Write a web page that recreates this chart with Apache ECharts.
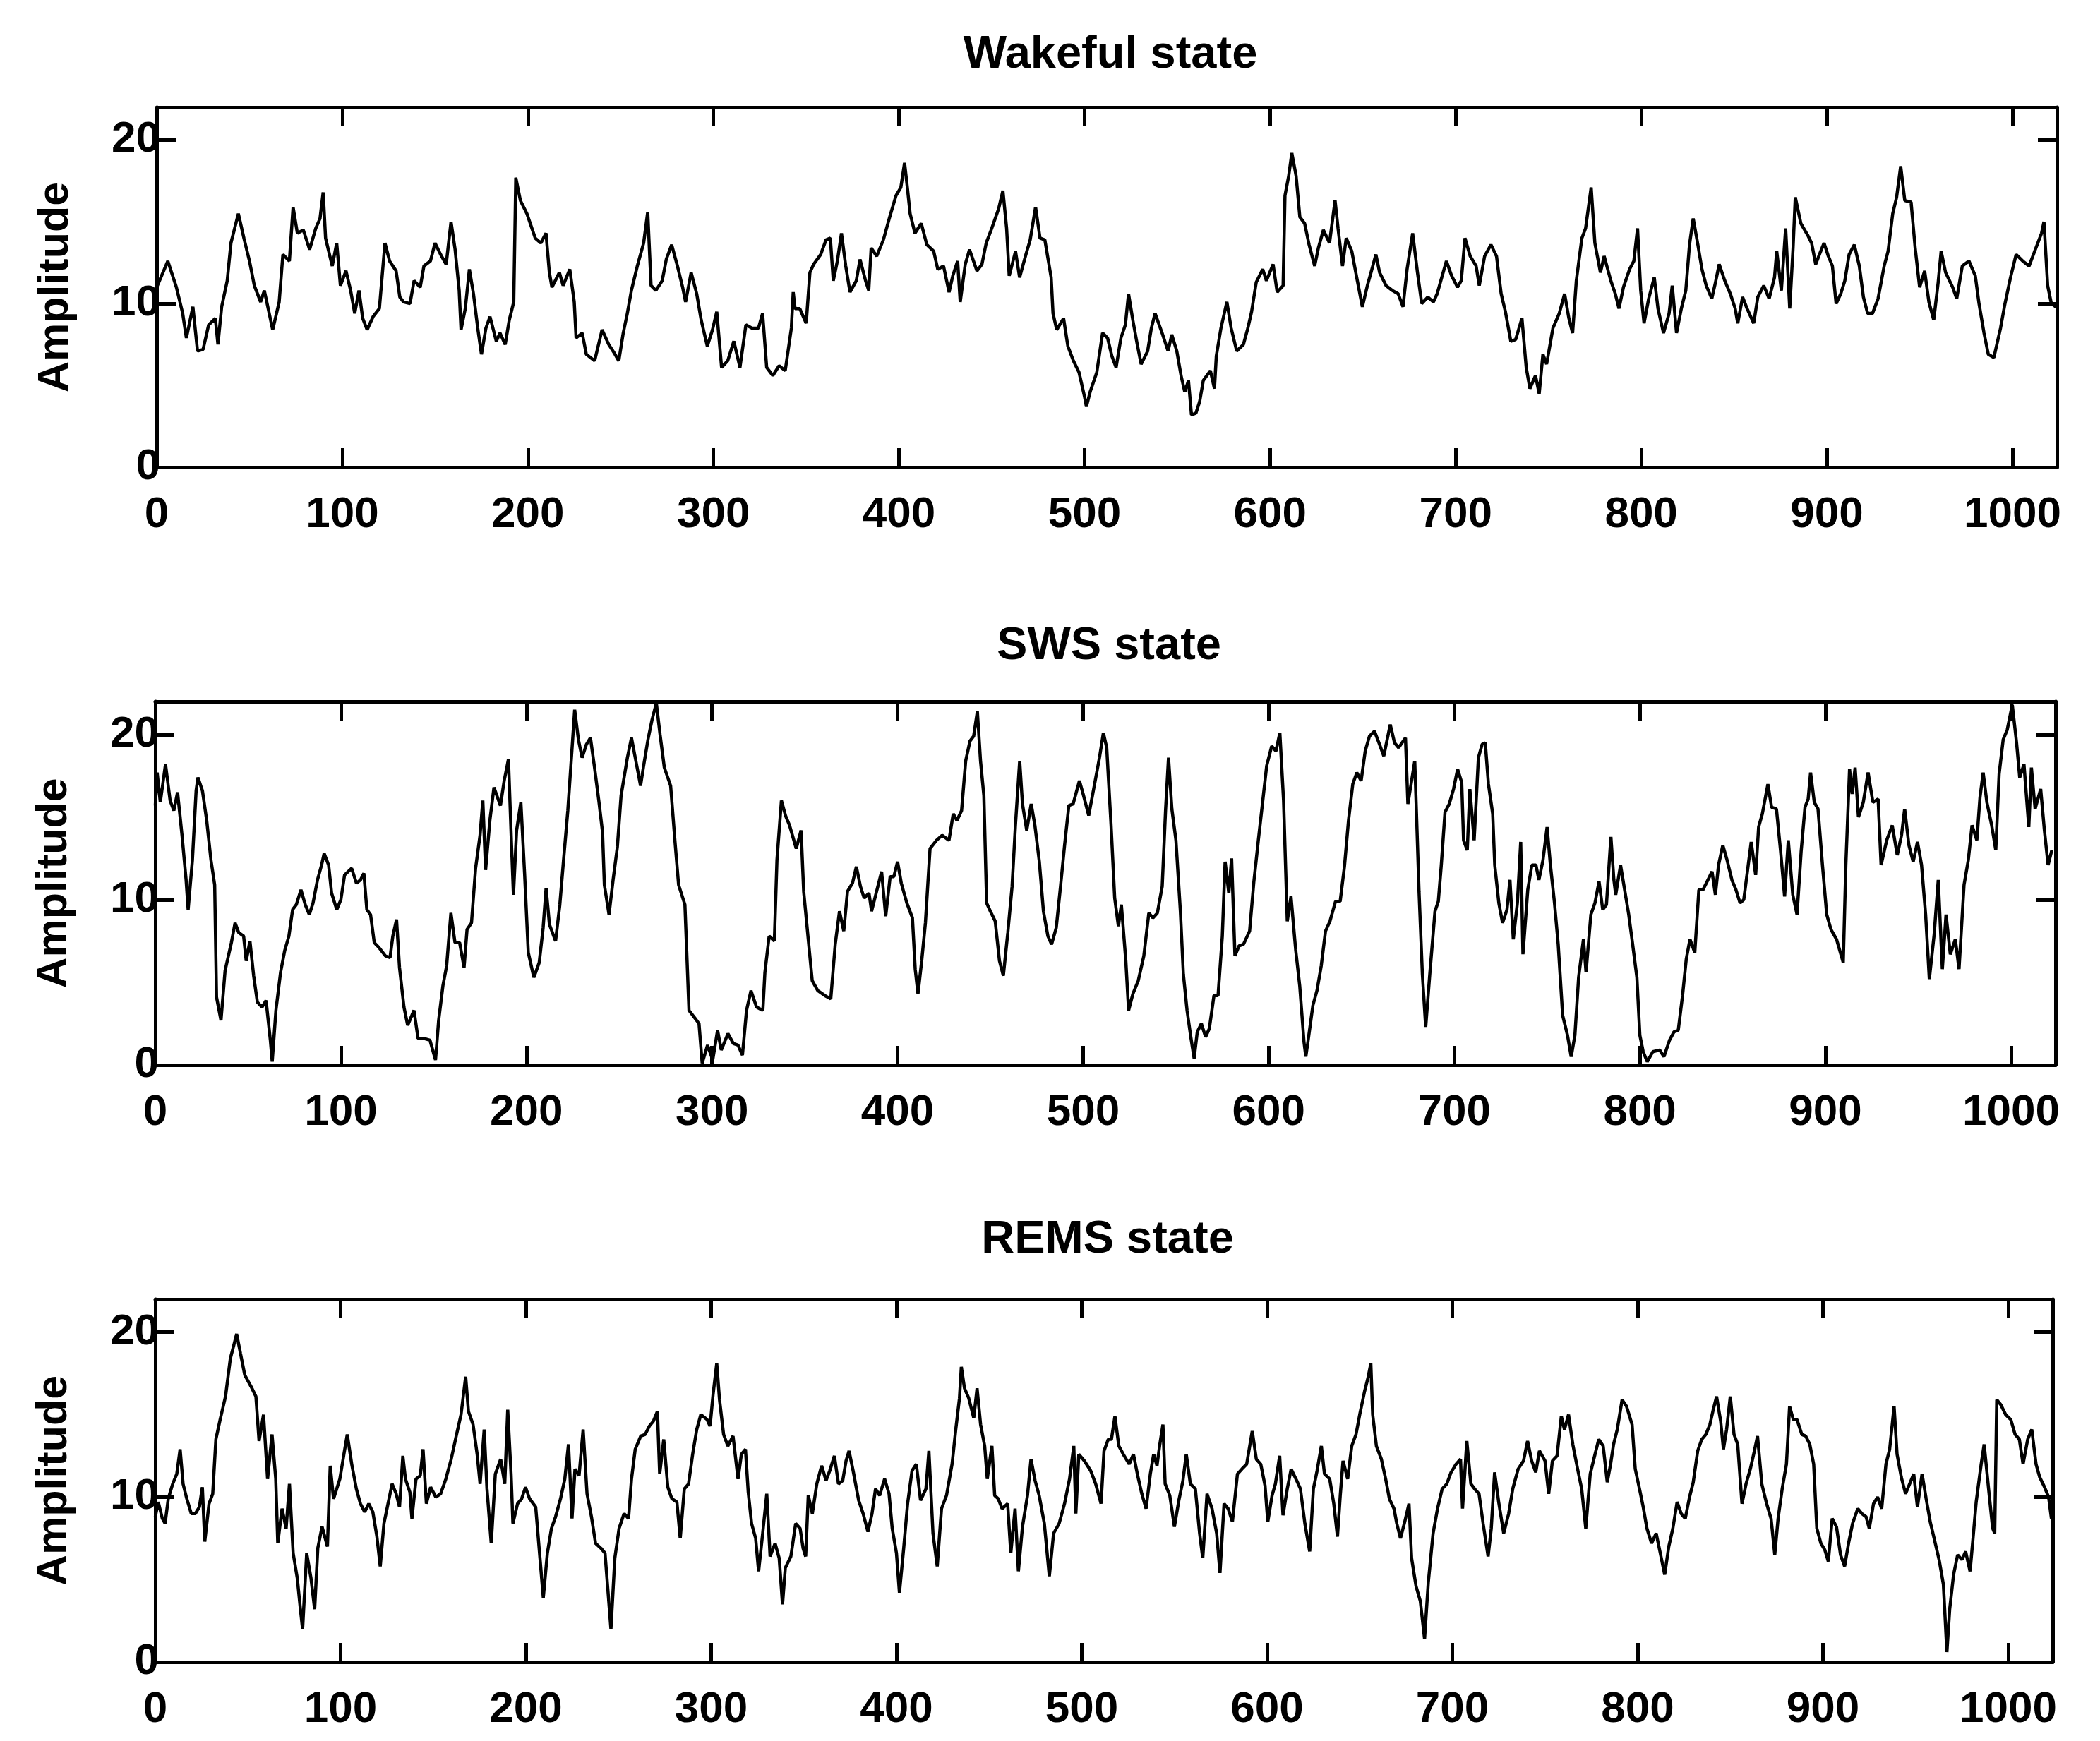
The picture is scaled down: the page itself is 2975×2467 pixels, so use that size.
<!DOCTYPE html>
<html>
<head>
<meta charset="utf-8">
<title>Amplitude by state</title>
<script src="https://cdn.jsdelivr.net/npm/echarts@6/dist/echarts.min.js"></script>
<style>
  html, body { margin: 0; padding: 0; background: #fff; }
  #chart { width: 2975px; height: 2467px; }
</style>
</head>
<body>
<div id="chart"></div>
<script>
"use strict";

var titles = ["Wakeful state", "SWS state", "REMS state"];
var xTicks = [0, 100, 200, 300, 400, 500, 600, 700, 800, 900, 1000];
var yTicks = [0, 10, 20];

// Wakeful state
var wakeX = [0,6,10.6,14,16,19.5,22,25,28,31.6,33,35,38,40,44,47,50,52.6,56,58,62.5,66,68,71.5,73.5,75.8,79,82.4,85.7,88,89.7,91,94.6,97,99,102,104.5,106.7,109,111,113.4,116.6,120,123,125.5,129,131,133,136.5,138.7,142,144,147.5,150,153,156,158.6,160.8,163,164,166.3,168.5,170.7,173,175,177.4,179.6,183,185,187.8,190,192.4,193.5,196,199.5,204,207,209.8,211.6,213,217,219,222.6,225,226,229.3,231.5,236,240,243.6,247,249,251.4,253.6,255.8,259,262.4,264.6,266.4,269,272.4,274.6,277.5,280.6,283.4,285,288,291,293.4,296.7,299.5,301.8,304.4,307.7,311,314.3,317.5,320.8,324.3,326.5,328.7,332,335.4,338.7,342,
  343,344,346.5,350,352,354,357.8,360.7,363,364.6,366.8,369,371.3,373.6,377,379,382,383.7,385,388,391.6,395,398.4,401,403,404.5,406,408.6,412,415,418.7,420.9,424,427,429,431.6,433,435.7,438,442,444.7,447,450,453.7,456,458,459.4,462.8,465,468.4,470.7,473.6,476,478.6,482,483,485,488.7,491,494,497,500,501,503,506.6,509.7,512.4,514.7,517,519.6,522,523.7,526,528.4,530.5,534,536,538,541.8,545,547,549.7,552,554,556,557.6,560,562,564,567.8,570,571,573.5,576.7,579,582,585.6,588,590,592.5,596,598,601.6,603.8,607,608,610,611.7,614,616,618.6,621,624,626,628.7,632,635,636.6,639,641,644,647,649.7,652.4,654.6,657,659,662.5,665.9,669,671.6,673.8,676.8,679.4,681.7,685,688,
  690,692,695,697.8,701,703,705,707.8,711,712.7,715.6,719,722,724.5,726.8,729.7,732.3,735.7,738,740,743,745,747,749,752.4,755.8,758.7,761,763,765,768,770,773,775,778,780,783.6,786,788,790.4,793.7,796,798,799.7,801.5,804,807,809,812,815,816.7,819,821.6,824,826,828,830.5,832.7,835,838,840,842,845,848,850.6,852,854.6,857,860.6,862.8,866,868.9,871.8,873,875.5,877.8,880,881.8,883,886,889.6,891.8,894,896,898.5,900.8,903,905,907.5,909.7,912,914.8,917.5,919.7,922,924.6,927.6,930.9,933,935.5,937.6,939.8,942,945.4,947.6,950,952.7,955,957.6,960,961.6,964,967.8,970,973,976.6,980,982,984.7,987,990,993.6,996,999,1002,1005.6,1009,1012,1015.7,1017,1019,1021,1023.5];
var wakeY = [11,12.6,11,9.4,7.9,9.8,7.1,7.2,8.7,9.1,7.5,9.8,11.4,13.7,15.5,14,12.6,11.1,10.1,10.8,8.4,10.1,13,12.6,15.9,14.3,14.5,13.3,14.6,15.2,16.8,14,12.3,13.7,11.1,12,10.8,9.4,10.8,9.1,8.4,9.2,9.7,13.7,12.6,12,10.4,10.1,10,11.4,11,12.3,12.6,13.7,13,12.4,15,13.3,10.8,8.4,9.7,12.1,10.6,8.5,6.9,8.5,9.2,7.7,8.2,7.5,9,10.1,17.7,16.3,15.5,14,13.7,14.3,11.9,11,11.9,11.1,12.1,10.1,7.9,8.2,6.9,6.5,8.4,7.5,6.9,6.5,8.2,9.4,10.8,12.3,13.7,15.6,11.1,10.8,11.4,12.7,13.6,12.3,11,10.1,11.9,10.6,9,7.4,8.4,9.5,6.1,6.5,7.7,6.1,8.7,8.5,8.5,9.4,6.1,5.6,6.2,5.9,8.5,
  10.7,9.7,9.7,8.8,11.9,12.4,13,13.9,14,11.4,12.6,14.3,12.3,10.7,11.4,12.7,11.4,10.8,13.4,12.9,13.9,15.3,16.6,17.1,18.6,17.1,15.5,14.3,14.9,13.6,13.2,12.1,12.3,10.7,11.7,12.6,10.1,12.4,13.3,12,12.4,13.7,14.6,15.8,16.9,14.6,11.7,13.2,11.6,13,13.9,15.9,14,13.9,11.6,9.4,8.4,9.1,7.4,6.5,5.8,4.3,3.7,4.6,5.8,8.2,7.9,6.8,6.1,7.9,8.7,10.6,9,7.5,6.3,7.1,8.5,9.4,8.2,7.1,8.1,7.1,5.6,4.6,5.3,3.2,3.3,4,5.3,5.9,4.8,6.8,8.5,10.1,8.5,7.1,7.5,8.5,9.5,11.3,12.1,11.4,12.4,10.7,11.1,16.6,17.8,19.2,17.8,15.3,14.9,13.6,12.3,13.4,14.5,13.7,16.3,14.6,12.3,14,13.2,11.4,9.8,11.1,12,13,11.9,11.1,10.8,10.6,9.8,12.1,14.3,11.9,10,10.4,10.1,
  10.6,11.4,12.6,11.7,11,11.4,14,12.9,12.3,11.1,12.9,13.6,12.9,10.6,9.5,7.7,7.8,9.1,6.1,4.8,5.6,4.5,6.9,6.3,8.5,9.4,10.6,9.1,8.2,11.4,14,14.6,17.1,13.7,11.9,12.9,11.4,10.6,9.7,11,12.1,12.6,14.6,10.8,8.8,10.3,11.6,9.7,8.2,9.4,11.1,8.2,9.7,10.8,13.6,15.2,13.6,12.1,11.1,10.3,11.3,12.4,11.4,10.6,9.7,8.8,10.4,9.7,8.8,10.4,11.1,10.3,11.6,13.2,10.8,14.6,9.7,13.4,16.5,14.9,14.2,13.7,12.4,13,13.7,12.9,12.3,10,10.6,11.4,13,13.6,12.3,10.4,9.4,9.4,10.3,12.3,13.2,15.5,16.5,18.4,16.3,16.2,13.4,11,12,10.1,9,11.3,13.2,11.9,11,10.3,12.3,12.6,11.7,10,8.2,6.9,6.7,8.5,10,11.6,13,12.6,12.3,13.2,14.3,15,11.1,10,9.8];

// SWS state
var swsX = [0,1,2.7,5.5,8,10,12,14.4,16.6,17.7,20,22,23,25.4,27.7,30,32,33,35.4,37.6,41,43,45,47.6,49,51,53,55,57.5,59.7,62,63,65,67.5,69.7,72,74,76,78.5,80.8,83,85,87.4,89.6,91,93.4,95,97.8,100,102,105.8,108.4,110.6,112.4,114,116,118,120.6,124,126.5,128,130,131.6,134,136,139.4,141.6,145,148,151,152.7,155,157,159.3,161.5,164,166.4,168,170.4,172.6,175,176.5,178,180.3,182.5,186,188,190.3,192,193,194.7,197,199,201,204,206.9,209,210.6,212.4,215.7,218,220,222.3,224,226,228,230,232.3,234.5,236.7,239,241,242,244.5,246.7,249,251,254.4,256.6,258.8,261.5,263,265.5,267.7,270,272,274.3,277.7,280,282,285.4,287.6,291,293,294.7,297.6,300.4,303,305,308.6,311.5,314,316.4,318.6,321,324,327.4,328.5,330.8,333.6,335,337.4,339.6,341.8,
  345.4,348,349.4,351.7,354,357,360.8,364,366.4,368.7,371,373,375.7,377.8,380,382,384.6,386,388,391.4,393.6,396,398,400,402,405,408,409.5,411,413,415,417.5,421,424,427.7,430,432,434.5,436.7,439,441,443,444.7,446.5,448,450,452.6,454.9,457,459.4,461.7,463.5,465.8,467.3,469.6,472,474,476.4,478.6,481,483,485.5,487.8,490,492.3,494.6,498,500,503,506,508.8,510.9,512.7,515,517,519,520.6,523,524.5,526.8,529.7,532.7,535.4,537.6,540,542.6,544.4,546,547.8,550,552.4,554,556,558,559.8,561.5,563.7,566,568,570.5,572.7,575,576.5,578.5,580,581.8,584,586.4,589.7,592,594.4,596.6,598.9,601.6,603.9,606,608,610,612,614.5,616.7,619,620,621.5,623.8,626,628.3,630.6,633,636,638.5,640.8,643,645.3,647.5,649.8,652,654.3,657,659.4,662,665.5,667.8,670,673.7,675,677,678.7,681,682.8,684.6,686.8,689.6,691.4,
  693,695,697.3,699.6,701.8,704,705,707,708.4,710.7,713,715,716.7,718.4,720.7,721.8,724,726,728.4,730,731.8,734,735.8,737,739.6,741.8,744,745.6,747.8,750,751.8,754,756,758.4,761,763,765,767,769.6,771,773.6,775.8,778,780,782,784.4,786,787,789.6,791.8,794,796,798.4,800,801.8,804,807,810.7,813,816,818.4,820.7,823,825,827,829.6,831.8,834,836.7,838.9,840.7,842.4,844.7,847,849.6,851.8,854,856,858.4,860,862.4,864,866,869,871,873.6,875.8,878,880,882.4,884.7,886.9,889,890.7,892,894,896,898.4,900.7,903,906,909.6,911,913,914.4,916,917.8,920.4,923,925.6,928.4,930,933,936,938.7,941,942.7,945,947.3,949.6,951.8,954,956,958.6,960.8,963,965,967.3,970,972,974.7,977,979,981.6,983.3,985,987,989.6,991.8,993.6,995.8,998,1000.7,1003,1004.7,1007,1009.6,1011,1013,1016,1018,1020,1022];
var swsY = [15.7,17.7,15.9,18.2,16,15.4,16.5,13.9,11.2,9.4,12.4,16.6,17.4,16.6,14.8,12.4,10.9,4.1,2.7,5.7,7.4,8.6,8,7.8,6.3,7.5,5.4,3.8,3.5,3.9,1.5,0.2,3.3,5.6,6.9,7.8,9.4,9.7,10.6,9.7,9.1,9.8,11.2,12.1,12.8,12.1,10.4,9.4,10,11.5,11.9,11,11.2,11.6,9.4,9.1,7.4,7.1,6.6,6.5,7.8,8.8,5.9,3.5,2.4,3.3,1.6,1.6,1.5,0.3,2.7,4.8,6,9.2,7.4,7.4,5.9,8.2,8.6,11.9,13.9,16,11.8,14.8,16.8,15.7,17.2,18.5,13.2,10.3,14.2,15.9,11.6,6.8,5.3,6.2,8.3,10.7,8.5,7.5,9.7,12.4,15.4,18.2,21.5,19.7,18.6,19.4,19.8,18,16,14.1,10.9,9.1,11.2,13.2,16.3,18.6,19.8,18.5,16.9,18,19.7,20.9,21.9,20,18,16.9,13.6,10.9,9.7,3.3,2.8,2.5,0.1,1.2,0.3,2.1,0.9,1.9,1.3,1.2,0.6,3.3,4.5,3.5,3.3,5.6,7.8,7.5,12.4,16,15.1,14.5,
  13.1,14.2,10.5,7.8,5.1,4.5,4.2,4,7.3,9.3,8.1,10.5,11,12,10.8,10.1,10.4,9.3,10.2,11.7,9,11.4,11.4,12.3,11,9.8,8.9,5.8,4.3,6.3,8.6,13.1,13.6,13.9,13.6,15.2,14.8,15.4,18.4,19.6,19.9,21.4,18.4,16.3,9.8,9.3,8.7,6.3,5.4,8,10.8,14.5,18.4,15.8,14.2,15.8,14.5,12.3,9.3,7.8,7.3,8.3,10.8,13.3,15.7,15.8,17.2,16.4,15.1,16.9,18.6,20.1,19.2,14.6,10.1,8.4,9.7,6.3,3.3,4.3,5.1,6.6,9.2,8.9,9.2,10.8,15.4,18.6,15.5,13.6,9.3,5.5,3.3,1.7,0.4,2,2.5,1.7,2.2,4.2,4.2,7.8,12.3,10.4,12.5,6.6,7.2,7.3,8.1,11.1,13.6,15.8,18.1,19.3,19,20.1,16,8.7,10.2,7,4.8,1.4,0.5,1.7,3.6,4.5,6,8.1,8.7,9.9,9.9,12,14.8,17,17.7,17.2,19,19.9,20.2,19.5,18.7,20.6,19.5,19.2,19.8,15.8,17.2,18.4,10.5,5.5,2.3,5.5,9.3,9.9,
  12.1,15.3,15.8,16.7,17.9,17.1,13.6,13,16.7,13.6,18.6,19.4,19.5,17,15.2,12.1,9.8,8.6,9.4,11.2,7.6,9.8,13.5,6.7,10.6,12.1,12.1,11.2,12.4,14.4,12.1,9.8,7.3,3,1.8,0.5,1.8,5.3,7.6,5.6,9.1,9.8,11.1,9.4,9.7,13.8,11.2,10.3,12.1,10.6,9.1,7.4,5.3,1.8,0.8,0.2,0.8,0.9,0.5,1.5,2,2.1,4.2,6.4,7.6,6.8,10.6,10.6,11.2,11.7,10.3,12.1,13.3,12.4,11.2,10.6,9.8,10,12.1,13.5,11.5,14.4,15.2,17,15.6,15.5,13,10.2,13.6,10.3,9.1,12.9,15.6,16.1,17.7,15.9,15.5,12.1,9.1,8.2,7.6,6.2,12.1,17.9,16.4,18,15,15.9,17.7,15.9,16.1,12.1,13.6,14.5,12.7,13.9,15.5,13.3,12.3,13.5,12.1,9.1,5.2,7.9,11.2,5.8,9.1,6.7,7.6,5.8,10.9,12.4,14.5,13.6,16.2,17.7,15.9,14.5,13,17.6,19.7,20.3,21.8,19.5,17.4,18.2,14.4,18,15.5,16.7,14.2,12.1,13];

// REMS state
var remsX = [0,1.6,3.8,5.3,7,9.4,11.6,13.4,15,17,19.4,21.6,23.8,25.4,26.7,29,31,32.7,35,37.9,40.5,42.8,43.9,46,48.3,51.7,54.3,56,58.4,60.6,63,65,66.1,68.4,70.6,72.4,74.4,76.6,78.4,79.5,81.7,84,86,87.7,90,92.9,94.4,96.2,99.6,101.8,103.6,106,108.5,110.7,113,115.2,117.4,119.6,121.4,123.4,125.6,127.8,130,131.8,133.6,135,137.4,138.5,140.7,143,144.5,146.3,148.6,151.4,154,156.8,159.7,162.6,165,167.5,169,171.5,173.7,175.3,177.5,179,181.3,183.5,186.4,188.6,190.2,192,193,195.5,197.7,199.8,202,205.3,207.6,209.4,211.6,213.8,216,218.7,221,223,224.9,226.5,228.7,230.9,233,235.4,237.6,240.5,242.7,244.3,245.9,248,250.3,253,255.4,257,259,262,264.4,266.6,268.8,271,272.2,274.4,276.6,278.8,281.5,283.3,285.5,287.8,290,292.2,294.4,297.8,299.4,301,303,304.5,306.7,309,311.8,314.5,316.3,318.5,320,321.8,324,325.6,327.8,330,331.8,334.5,336.7,338.5,340,343,345.6,
  348,349.6,351,352.4,354.6,357,359.6,362,364,366.5,368.7,371,372.8,374.4,376.6,379.6,382,384.6,386.8,388.7,390.9,393.6,396,397.7,400,401.6,403.9,406,408.4,410.7,413,415.9,417.5,419.7,422,424.3,427,430,432,434,435,436.7,439,441.7,443.5,445.4,447.6,449,451.5,453,454.9,457,460,461.7,464,465.8,468,470.7,472.6,474.8,477,479.8,482.5,484.8,487.8,490.7,493.4,495.7,496.8,498.4,501.4,504.8,507.5,510.4,512,514.3,516,517.9,520,522.9,525.6,527.9,530,532.4,534.7,537,538.8,540.6,542,543.8,545,547.5,550,552.4,554.6,556.4,558.6,561.3,563.6,565.3,567.6,570.3,572.8,574.6,576.8,579,581.3,584,586.4,589,592,594.2,596.6,598.9,600.4,602.7,604.5,606.8,608.6,610.9,613,616,618,620.4,623,625,627,629.3,631,633.8,636,638,639.5,641,643.5,645.7,648,650,652.6,654.4,656,657,659,661.7,664,666,668.5,670,672,674.3,676.6,678,680.4,682.7,685,687,689.6,692,
  694.5,697,699.3,702,704.4,705.5,707.8,710,712,714.4,716.6,719.3,721,722.8,725,727.7,730.4,732.6,735.5,738.4,740.6,742.8,745,747,750,752,754,756.5,758.8,760.5,762.7,765,767.6,769.8,772,774.4,777,779,781.4,783.6,785.4,787,789,791.6,794,797,798.7,801,803,805,807.5,810,812.4,814.6,816.8,819,821.3,823.5,825.7,828,830,832.4,834.6,836.8,839,840.8,842.6,844.8,846.3,848,850,852,854,856.3,858.5,860.8,863,864.7,867,869.6,872,874,875.8,878,880.3,882,884,886,888.6,890.7,892.9,895,896.7,898.9,901,902.9,905,907.3,909.5,911.7,914,916,918.8,921,923.3,925,927.3,929.5,931.7,934,936,938.4,940,942.3,944.6,946.8,949,951,953.5,955.7,957.9,960,962.7,965,966.9,968.4,970.5,972.7,975,977,979.4,981,982.7,985.4,987,989.4,991.6,992.7,993.8,996,998.6,1001.4,1003.7,1006,1008,1010.5,1012.7,1015,1017,1019.6,1021.8,1023.3];
var remsY = [8.8,9.7,8.7,8.4,9.9,10.8,11.4,12.9,10.8,9.9,9,9,9.4,10.6,7.3,9.6,10.2,13.5,14.7,16.1,18.4,19.4,19.9,18.7,17.4,16.7,16.1,13.4,15,11.1,13.8,11.1,7.2,9.3,8.1,10.8,6.6,5.1,3.1,2,6.6,5.1,3.2,6.9,8.2,7,11.9,9.9,11.1,12.6,13.8,12,10.5,9.6,9.1,9.6,9.1,7.6,5.8,8.4,9.6,10.8,10.2,9.4,12.5,11.1,10.3,8.7,11.1,11.3,12.9,9.6,10.6,10,10.2,11.1,12.3,13.8,15,17.3,15.2,14.4,12.6,10.8,14.1,10.5,7.2,11.4,12.3,10.8,15.3,11.4,8.4,9.6,9.9,10.6,9.9,9.4,6.3,3.9,6.6,8.1,8.8,9.9,11.1,13.2,8.7,11.7,11.3,14.1,10.2,8.8,7.2,6.9,6.6,4.3,2,6.3,8.1,9,8.7,11.1,12.9,13.7,13.8,14.3,14.6,15.2,11.4,13.5,10.6,9.9,9.7,7.5,10.5,10.8,12.6,14.1,15,14.7,14.3,16.2,18.1,15.9,13.8,13.1,13.7,11.1,12.6,12.9,10.3,8.4,7.5,5.5,7.8,10.2,6.4,7.2,6.3,3.5,5.7,6.4,8.4,
  8.1,6.9,6.4,10.1,9,10.8,11.9,11,11.6,12.5,10.8,11,12.2,12.8,11.6,9.8,9,7.9,9,10.5,10.1,11.1,10.2,8.1,6.6,4.2,6.9,9.6,11.6,12,9.8,10.5,12.8,7.8,5.8,9.3,10.1,12,14.1,16,17.9,16.6,16,14.8,16.6,14.4,13.1,11.1,13.1,10.1,9.9,9.3,9.6,6.6,9.3,5.5,8.2,10.1,12.3,11,10.1,8.4,5.2,7.8,8.4,9.6,11.1,13.1,9,12.6,12.2,11.6,10.8,9.6,12.8,13.5,13.5,14.9,13.1,12.5,12,12.6,11.4,10.2,9.3,11.4,12.6,11.9,13.1,14.4,10.8,10.1,8.2,9.8,11,12.6,10.8,10.5,7.8,6.3,10.2,9.3,7.8,5.4,9.6,9.3,8.5,11.4,11.7,12,14,12.3,12,10.7,8.5,10.1,10.8,12.5,8.9,10.5,11.7,11,10.5,8.4,6.7,10.5,11.6,13.1,11.4,11.1,9.6,7.6,10.1,12.2,11.1,13.1,13.8,15,16.4,17.2,18.1,15,13.1,12.3,11.1,9.9,9.3,8.4,7.5,8.5,9.6,6.3,4.6,3.7,1.4,4.8,7.8,9.3,
  10.5,10.8,11.5,12,12.3,9.3,13.4,10.8,10.5,10.2,8.4,6.4,8.1,11.5,9.7,7.8,9,10.5,11.7,12.2,13.4,12.2,11.5,12.8,12.2,10.2,12.2,12.5,14.9,14.1,15,13.2,11.7,10.5,8.1,11.4,12.6,13.5,13.1,10.9,12,13.2,14.1,15.9,15.5,14.4,11.7,10.5,9.4,8.1,7.2,7.8,6.5,5.3,7,8.1,9.7,9,8.7,10,10.9,12.8,13.5,13.8,14.4,15.3,16.1,14.6,12.9,14.1,16.1,13.8,13.2,9.6,10.8,11.7,12.8,13.7,10.8,9.6,8.7,6.5,8.7,10.5,12,15.5,14.7,14.7,13.8,13.7,13.2,12,8.1,7.2,6.8,6.1,8.7,8.2,6.5,5.8,7.3,8.4,9.3,9,8.8,8.1,9.6,10,9.3,12,12.9,15.5,12.6,11.2,10.2,10.8,11.4,9.4,11.4,9.9,8.5,7.5,6.2,4.7,0.6,3.2,5.3,6.5,6.2,6.7,5.5,7.5,9.7,12,13.2,10.5,8.1,7.8,15.9,15.6,15,14.7,13.8,13.5,12,13.5,14.1,12,11.2,10.6,10,8.7];

var xs = [wakeX, swsX, remsX];
var ys = [wakeY, swsY, remsY];

// plot boxes
var boxes = [
  { left: 222, top: 152, width: 2692, height: 510 },
  { left: 220, top: 994, width: 2692, height: 515 },
  { left: 220, top: 1841, width: 2688, height: 514 }
];
var titleTops = [41, 879, 1720];

var font = "Liberation Sans";
var ink = "#000";

function pairs(x, y) {
  var out = [];
  for (var i = 0; i < x.length; i++) out.push([x[i], y[i]]);
  return out;
}

function plain(v) { return String(v); }

var grids = [], xAxes = [], yAxes = [], series = [], titleList = [];

for (var k = 0; k < 3; k++) {
  grids.push(boxes[k]);
  titleList.push({
    text: titles[k],
    left: boxes[k].left + boxes[k].width / 2,
    textAlign: "center",
    top: titleTops[k],
    textStyle: { fontFamily: font, fontSize: 65, fontWeight: "bold", color: ink }
  });
  // bottom + top x axes
  [["bottom", true], ["top", false]].forEach(function(p) {
    xAxes.push({
      type: "value",
      gridIndex: k,
      position: p[0],
      min: 0,
      max: 1024,
      splitLine: { show: false },
      axisLine: { show: true, onZero: false, lineStyle: { color: ink, width: 5 } },
      axisTick: { show: true, inside: true, length: 27, customValues: xTicks, lineStyle: { color: ink, width: 5 } },
      axisLabel: { show: p[1], customValues: xTicks, formatter: plain, margin: 37, color: ink, fontFamily: font, fontSize: 62, fontWeight: "bold" }
    });
  });
  // left + right y axes
  [["left", true], ["right", false]].forEach(function(p) {
    yAxes.push({
      type: "value",
      gridIndex: k,
      position: p[0],
      min: 0,
      max: 22,
      name: p[1] ? "Amplitude" : "",
      nameLocation: "middle",
      nameRotate: 90,
      nameGap: 112,
      nameTextStyle: { color: ink, fontFamily: font, fontSize: 61, fontWeight: "bold" },
      splitLine: { show: false },
      axisLine: { show: true, onZero: false, lineStyle: { color: ink, width: 5 } },
      axisTick: { show: true, inside: true, length: 27, customValues: yTicks, lineStyle: { color: ink, width: 5 } },
      axisLabel: { show: p[1], customValues: yTicks, formatter: plain, margin: -5, color: ink, fontFamily: font, fontSize: 62, fontWeight: "bold" }
    });
  });
  series.push({
    type: "line",
    xAxisIndex: k * 2,
    yAxisIndex: k * 2,
    data: pairs(xs[k], ys[k]),
    showSymbol: false,
    symbol: "none",
    animation: false,
    lineStyle: { color: ink, width: 4.5 }
  });
}

var chart = echarts.init(document.getElementById("chart"), null, { renderer: "canvas" });
chart.setOption({
  backgroundColor: "#fff",
  animation: false,
  title: titleList,
  grid: grids,
  xAxis: xAxes,
  yAxis: yAxes,
  series: series
});
</script>
</body>
</html>
